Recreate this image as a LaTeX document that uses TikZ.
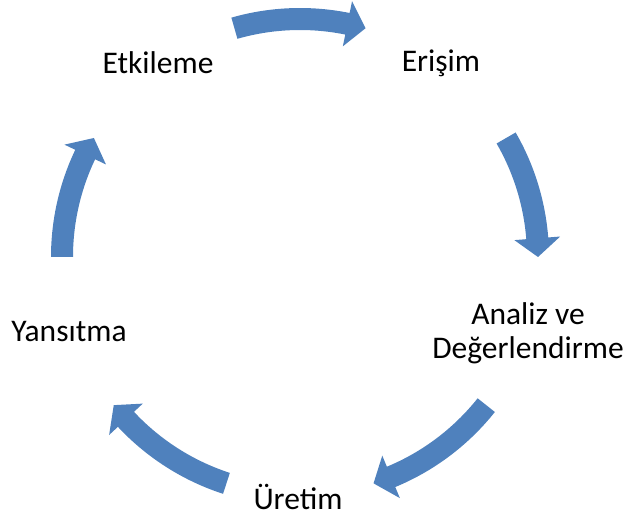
\documentclass[tikz,border=0pt]{standalone}
\usepackage{fontspec}
\setmainfont{Carlito}
\definecolor{cycleblue}{RGB}{79,129,189}
% curved block arrow on the ring: #1 = tail angle, #2 = tip angle (clockwise)
\newcommand\cyclearrow[2]{%
  \pgfmathsetmacro\headbase{#2+4.5}%
  \fill[cycleblue, shift={(ring)}]
    (#1:249pt) arc[start angle=#1, end angle=\headbase, radius=249pt]
    -- (\headbase:261pt) -- (#2:238pt) -- (\headbase:215pt)
    -- (\headbase:227pt) arc[start angle=\headbase, end angle=#1, radius=227pt]
    -- cycle;}
\begin{document}
\begin{tikzpicture}[x=1pt,y=1pt,
  stage/.style={font=\fontsize{31.5}{34}\selectfont, align=center, inner sep=0pt, text=black}]
\useasboundingbox (0,0) rectangle (630,520);
\coordinate (ring) at (300,263);

\node[stage] (etkileme) at (158,457) {Etkileme};
\node[stage] (erisim)   at (441,457) {Erişim};
\node[stage] (analiz)   at (528,187) {Analiz ve\\Değerlendirme};
\node[stage] (uretim)   at (298,23)  {Üretim};
\node[stage] (yansitma) at (69,188)  {Yansıtma};

\cyclearrow{106}{74}
\cyclearrow{30}{0}
\cyclearrow{-38.5}{-72}
\cyclearrow{252}{218.5}
\cyclearrow{180}{150}
\end{tikzpicture}
\end{document}
